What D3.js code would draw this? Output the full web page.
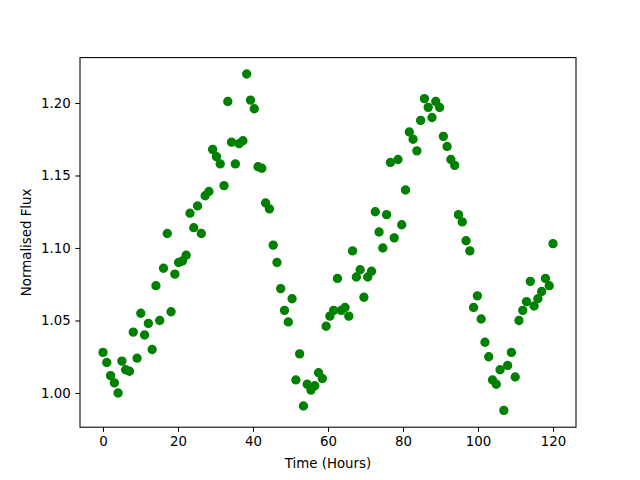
<!DOCTYPE html>
<html>
<head>
<meta charset="utf-8">
<script src="https://cdn.jsdelivr.net/npm/d3@7"></script>
<style>
  body { margin: 0; background: #fff; }
  svg text { font-family: "DejaVu Sans", sans-serif; fill: #000; }
</style>
</head>
<body>
<div id="chart"></div>
<script>
// Observation times (hours)
const hours = [
  0, 1.01, 2.02, 3.03, 4.03, 5.04, 6.05, 7.06, 8.07, 9.08,
  10.08, 11.09, 12.1, 13.11, 14.12, 15.13, 16.13, 17.14, 18.15, 19.16,
  20.17, 21.18, 22.18, 23.19, 24.2, 25.21, 26.22, 27.23, 28.24, 29.24,
  30.25, 31.26, 32.27, 33.28, 34.29, 35.29, 36.3, 37.31, 38.32, 39.33,
  40.34, 41.34, 42.35, 43.36, 44.37, 45.38, 46.39, 47.39, 48.4, 49.41,
  50.42, 51.43, 52.44, 53.45, 54.45, 55.46, 56.47, 57.48, 58.49, 59.5,
  60.5, 61.51, 62.52, 63.53, 64.54, 65.55, 66.55, 67.56, 68.57, 69.58,
  70.59, 71.6, 72.61, 73.61, 74.62, 75.63, 76.64, 77.65, 78.66, 79.66,
  80.67, 81.68, 82.69, 83.7, 84.71, 85.71, 86.72, 87.73, 88.74, 89.75,
  90.76, 91.76, 92.77, 93.78, 94.79, 95.8, 96.81, 97.82, 98.82, 99.83,
  100.84, 101.85, 102.86, 103.87, 104.87, 105.88, 106.89, 107.9, 108.91, 109.92,
  110.92, 111.93, 112.94, 113.95, 114.96, 115.97, 116.97, 117.98, 118.99, 120
];

// Normalised flux
const flux = [
  1.028, 1.021, 1.012, 1.007, 1.000, 1.022, 1.016, 1.015, 1.042, 1.024,
  1.055, 1.040, 1.048, 1.030, 1.074, 1.050, 1.086, 1.110, 1.056, 1.082,
  1.090, 1.091, 1.095, 1.124, 1.114, 1.129, 1.110, 1.136, 1.139, 1.168,
  1.163, 1.158, 1.143, 1.201, 1.173, 1.158, 1.172, 1.174, 1.220, 1.202,
  1.196, 1.156, 1.155, 1.131, 1.127, 1.102, 1.090, 1.072, 1.057, 1.049,
  1.065, 1.009, 1.027, 0.991, 1.006, 1.002, 1.005, 1.014, 1.010, 1.046,
  1.053, 1.057, 1.079, 1.057, 1.059, 1.053, 1.098, 1.080, 1.085, 1.066,
  1.080, 1.084, 1.125, 1.111, 1.100, 1.123, 1.159, 1.107, 1.161, 1.116,
  1.140, 1.180, 1.175, 1.167, 1.188, 1.203, 1.197, 1.190, 1.201, 1.197,
  1.177, 1.170, 1.161, 1.157, 1.123, 1.118, 1.105, 1.098, 1.059, 1.067,
  1.051, 1.035, 1.025, 1.009, 1.006, 1.016, 0.988, 1.019, 1.028, 1.011,
  1.050, 1.057, 1.063, 1.077, 1.060, 1.065, 1.070, 1.079, 1.074, 1.103
];

const xTicks = [0, 20, 40, 60, 80, 100, 120];
const yTicks = [1.00, 1.05, 1.10, 1.15, 1.20];

const width = 640, height = 480;
const margin = { top: 57.6, right: 64, bottom: 52.8, left: 80 };
const plotW = width - margin.left - margin.right;
const plotH = height - margin.top - margin.bottom;

const svg = d3.select('#chart')
  .append('svg')
  .attr('width', width)
  .attr('height', height);

const g = svg.append('g')
  .attr('transform', `translate(${margin.left},${margin.top})`);

const x = d3.scaleLinear().domain([-6.13, 126.13]).range([0, plotW]);
const y = d3.scaleLinear().domain([0.9764, 1.2313]).range([plotH, 0]);

// Points
const pts = hours.map((h, i) => ({ h, f: flux[i] }));
g.append('g')
  .selectAll('circle')
  .data(pts)
  .join('circle')
  .attr('cx', d => x(d.h))
  .attr('cy', d => y(d.f))
  .attr('r', 4)
  .attr('fill', '#008000')
  .attr('stroke', '#008000')
  .attr('stroke-width', 1.33);

// Axes
const xAxis = g.append('g')
  .attr('transform', `translate(0,${plotH})`)
  .call(d3.axisBottom(x).tickValues(xTicks).tickSize(4.67).tickPadding(4.67).tickFormat(d3.format('d')));

const yAxis = g.append('g')
  .call(d3.axisLeft(y).tickValues(yTicks).tickSize(4.67).tickPadding(4.67).tickFormat(d3.format('.2f')));

[xAxis, yAxis].forEach(a => {
  a.select('.domain').remove();
  a.selectAll('.tick line').attr('stroke', '#000').attr('stroke-width', 1.07);
  a.selectAll('.tick text').attr('font-size', '13.33px').attr('font-family', '"DejaVu Sans", sans-serif');
});

// Frame
g.append('rect')
  .attr('width', plotW)
  .attr('height', plotH)
  .attr('fill', 'none')
  .attr('stroke', '#000')
  .attr('stroke-width', 1.07);

// Labels
svg.append('text')
  .attr('x', margin.left + plotW / 2)
  .attr('y', 468)
  .attr('text-anchor', 'middle')
  .attr('font-size', '13.33px')
  .text('Time (Hours)');

svg.append('text')
  .attr('transform', `translate(31,${margin.top + plotH / 2}) rotate(-90)`)
  .attr('text-anchor', 'middle')
  .attr('font-size', '13.33px')
  .text('Normalised Flux');
</script>
</body>
</html>
